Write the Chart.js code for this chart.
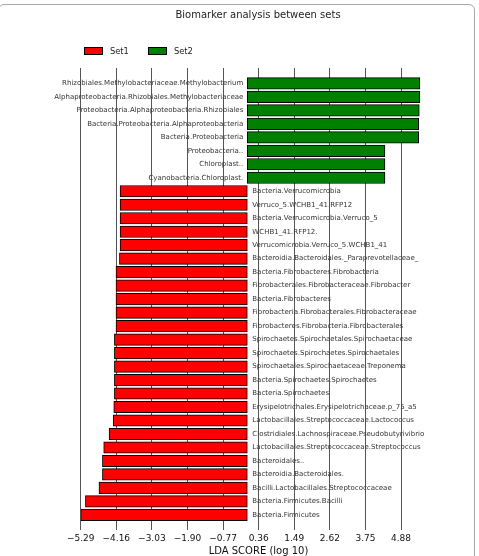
<!DOCTYPE html>
<html>
<head>
<meta charset="utf-8">
<script src="https://cdn.jsdelivr.net/npm/chart.js@4"></script>
<style>
  html, body { margin: 0; padding: 0; background: #fff; overflow: hidden; }
  #wrap { position: relative; width: 479px; height: 556px; }
  #frame {
    position: absolute; left: -2px; top: 4px; width: 477px; height: 560px;
    border: 1.5px solid #a8a8a8; border-radius: 6px; box-sizing: border-box;
  }
  canvas { position: absolute; left: 0; top: 0; }
</style>
</head>
<body>
<div id="wrap">
  <div id="frame"></div>
  <canvas id="myChart" width="479" height="556"></canvas>
</div>
<script>
// taxa enriched in Set2 (top of the plot, positive LDA)
const set2Labels = [
  'Rhizobiales.Methylobacteriaceae.Methylobacterium',
  'Alphaproteobacteria.Rhizobiales.Methylobacteriaceae',
  'Proteobacteria.Alphaproteobacteria.Rhizobiales',
  'Bacteria.Proteobacteria.Alphaproteobacteria',
  'Bacteria.Proteobacteria',
  'Proteobacteria..',
  'Chloroplast..',
  'Cyanobacteria.Chloroplast.'
];
const set2Scores = [5.48, 5.48, 5.46, 5.44, 5.44, 4.37, 4.37, 4.37];

// taxa enriched in Set1 (negative LDA)
const set1Labels = [
  'Bacteria.Verrucomicrobia',
  'Verruco_5.WCHB1_41.RFP12',
  'Bacteria.Verrucomicrobia.Verruco_5',
  'WCHB1_41.RFP12.',
  'Verrucomicrobia.Verruco_5.WCHB1_41',
  'Bacteroidia.Bacteroidales._Paraprevotellaceae_',
  'Bacteria.Fibrobacteres.Fibrobacteria',
  'Fibrobacterales.Fibrobacteraceae.Fibrobacter',
  'Bacteria.Fibrobacteres',
  'Fibrobacteria.Fibrobacterales.Fibrobacteraceae',
  'Fibrobacteres.Fibrobacteria.Fibrobacterales',
  'Spirochaetes.Spirochaetales.Spirochaetaceae',
  'Spirochaetes.Spirochaetes.Spirochaetales',
  'Spirochaetales.Spirochaetaceae.Treponema',
  'Bacteria.Spirochaetes.Spirochaetes',
  'Bacteria.Spirochaetes',
  'Erysipelotrichales.Erysipelotrichaceae.p_75_a5',
  'Lactobacillales.Streptococcaceae.Lactococcus',
  'Clostridiales.Lachnospiraceae.Pseudobutyrivibrio',
  'Lactobacillales.Streptococcaceae.Streptococcus',
  'Bacteroidales..',
  'Bacteroidia.Bacteroidales.',
  'Bacilli.Lactobacillales.Streptococcaceae',
  'Bacteria.Firmicutes.Bacilli',
  'Bacteria.Firmicutes'
];
const set1Scores = [
  -4.04, -4.04, -4.04, -4.04, -4.04, -4.06,
  -4.17, -4.17, -4.17, -4.17, -4.17,
  -4.22, -4.22, -4.22, -4.22, -4.22,
  -4.24, -4.26, -4.39, -4.56, -4.60, -4.60, -4.71, -5.14, -5.29
];

const xTicks = [-5.29, -4.16, -3.03, -1.90, -0.77, 0.36, 1.49, 2.62, 3.75, 4.88];
const seriesNames = ['Set1', 'Set2'];
const chartTitle = 'Biomarker analysis between sets';
const xTitle = 'LDA SCORE (log 10)';

const nTop = set2Labels.length;
const set2Data = set2Scores.map((v, i) => ({ x: v, y: i, label: set2Labels[i] }));
const set1Data = set1Scores.map((v, i) => ({ x: v, y: nTop + i, label: set1Labels[i] }));
const nAll = nTop + set1Labels.length;

const FONT = '"DejaVu Sans", sans-serif';

// title, legend and the taxon names beside the zero line
const decorations = {
    id: 'decorations',
    afterDatasetsDraw(chart) {
        const ctx = chart.ctx;
        const xs = chart.scales.x, ys = chart.scales.y;
        const x0 = xs.getPixelForValue(0);
        ctx.save();
        ctx.fillStyle = '#333';
        ctx.font = '7px ' + FONT;
        ctx.textBaseline = 'middle';
        chart.data.datasets.forEach(ds => {
            ds.data.forEach(d => {
                const y = ys.getPixelForValue(d.y);
                if (d.x < 0) {
                    ctx.textAlign = 'left';
                    ctx.fillText(d.label, x0 + 5, y);
                } else {
                    ctx.textAlign = 'right';
                    ctx.fillText(d.label, x0 - 4, y);
                }
            });
        });
        ctx.restore();
    },
    afterDraw(chart) {
        const ctx = chart.ctx;
        ctx.save();
        ctx.fillStyle = '#222';
        ctx.font = '10px ' + FONT;
        ctx.textAlign = 'center';
        ctx.textBaseline = 'middle';
        ctx.fillText(chartTitle, 258, 15);

        // legend
        const items = [[84, 110], [148, 174]];
        ctx.font = '8.3px ' + FONT;
        ctx.textAlign = 'left';
        chart.data.datasets.forEach((ds, i) => {
            const [bx, tx] = items[i];
            ctx.fillStyle = ds.backgroundColor;
            ctx.fillRect(bx, 47, 18, 7);
            ctx.strokeStyle = '#000';
            ctx.lineWidth = 1;
            ctx.strokeRect(bx + 0.5, 47.5, 18, 7);
            ctx.fillStyle = '#222';
            ctx.fillText(seriesNames[i], tx, 51.5);
        });
        ctx.restore();
    }
};

const ctx = document.getElementById('myChart');

var aChart = new Chart(ctx, {
    type: 'bar',
    data: {
        datasets: [{
            label: seriesNames[0],
            data: set1Data,
            backgroundColor: '#ff0000',
            borderColor: '#000',
            borderWidth: 1,
            borderSkipped: false
        },
        {
            label: seriesNames[1],
            data: set2Data,
            backgroundColor: '#008000',
            borderColor: '#000',
            borderWidth: 1,
            borderSkipped: false
        }]
    },
    options: {
        indexAxis: 'y',
        responsive: false,
        devicePixelRatio: 1,
        animation: false,
        grouped: false,
        barThickness: 11.5,
        layout: {
            padding: { left: 80.7, right: 42.7, top: 68, bottom: -1.4 }
        },
        plugins: {
            legend: { display: false },
            title: { display: false },
            tooltip: { enabled: false }
        },
        scales: {
            x: {
                type: 'linear',
                min: -5.29,
                max: 6.0,
                z: 1,
                afterBuildTicks: (scale) => {
                    scale.ticks = xTicks.map(v => ({ value: v }));
                },
                ticks: {
                    autoSkip: false,
                    maxRotation: 0,
                    padding: 4,
                    color: '#111',
                    font: { family: FONT, size: 9 },
                    callback: (v) => v.toFixed(2).replace('-', '\u2212')
                },
                grid: {
                    color: '#555',
                    lineWidth: 1,
                    drawTicks: false
                },
                border: { display: false },
                title: {
                    display: true,
                    text: xTitle,
                    color: '#111',
                    font: { family: FONT, size: 10 },
                    padding: { top: -3, bottom: 0 }
                }
            },
            y: {
                type: 'linear',
                reverse: true,
                offset: false,
                min: -1.14,
                max: nAll - 1 + 1.09,
                display: false
            }
        }
    },
    plugins: [decorations]
});
</script>
</body>
</html>
